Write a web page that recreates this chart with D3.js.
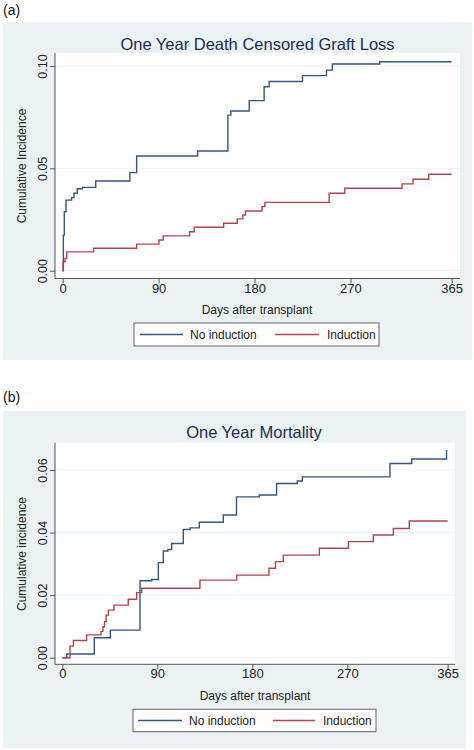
<!DOCTYPE html>
<html>
<head>
<meta charset="utf-8">
<script src="https://cdn.jsdelivr.net/npm/d3@7/dist/d3.min.js"></script>
<style>
  html, body { margin: 0; padding: 0; background: #ffffff; }
  svg { display: block; font-family: "Liberation Sans", Arial, sans-serif; }
</style>
</head>
<body>
<svg id="chart" width="474" height="750"></svg>
<script>
// ---------- DATA ----------
const xTickValues = [0, 90, 180, 270, 365];
const seriesNames = ["No induction", "Induction"];

// Panel (a): One Year Death Censored Graft Loss
const graftTitle = "One Year Death Censored Graft Loss";
const graftYLabel = "Cumulative Incidence";
const graftYTicks = [0, 0.05, 0.10];
const graftNoIndDays = [0, 0.6, 1.5, 3.1, 8.4, 10.6, 13.7, 18.4, 31, 63, 69.4, 126.6, 155, 157.8, 175, 189, 193.7, 225, 247.5, 253, 297.5, 365];
const graftNoIndVals = [0, 0.0174, 0.0288, 0.0345, 0.0357, 0.0378, 0.040, 0.0407, 0.0438, 0.0479, 0.056, 0.0585, 0.076, 0.078, 0.0831, 0.0899, 0.0924, 0.0953, 0.098, 0.101, 0.1021, 0.1021];
const graftIndDays = [0, 0.3, 2.2, 3.8, 29, 69.4, 90.3, 94.3, 119, 123.4, 151, 163.7, 169, 171.5, 187, 189.7, 250, 264.7, 318.4, 328.7, 343.4, 365];
const graftIndVals = [0, 0.0044, 0.006, 0.0092, 0.011, 0.013, 0.015, 0.017, 0.019, 0.0212, 0.0232, 0.0253, 0.0272, 0.0292, 0.0313, 0.0334, 0.0378, 0.0403, 0.0424, 0.0447, 0.0471, 0.0471];

// Panel (b): One Year Mortality
const mortTitle = "One Year Mortality";
const mortYLabel = "Cumulative incidence";
const mortYTicks = [0, 0.02, 0.04, 0.06];
const mortNoIndDays = [0, 4.2, 30.3, 45.5, 73.6, 84.7, 91, 95.7, 100, 103.6, 114.6, 121, 129.8, 152.5, 165, 186.6, 203, 222.6, 227.4, 310.4, 331, 364, 364];
const mortNoIndVals = [0, 0.0012, 0.0064, 0.0088, 0.0246, 0.025, 0.0304, 0.0341, 0.0346, 0.0365, 0.041, 0.0415, 0.0433, 0.0456, 0.0514, 0.052, 0.0557, 0.0565, 0.0578, 0.0621, 0.0635, 0.0664, 0.0664];
const mortIndDays = [0, 7.3, 10.5, 23, 36.7, 38.5, 40, 41.5, 43.6, 49, 62.5, 70.5, 75.2, 130.4, 165.2, 195.8, 202, 209.4, 243.5, 271, 294.6, 313.6, 328.7, 365];
const mortIndVals = [0, 0.0037, 0.0055, 0.0073, 0.0084, 0.0099, 0.0115, 0.0136, 0.0152, 0.0168, 0.0187, 0.0208, 0.0222, 0.0248, 0.0264, 0.0286, 0.0307, 0.0328, 0.035, 0.0371, 0.0392, 0.0413, 0.0437, 0.0437];

// ---------- STYLE ----------
const colors = ["#34567f", "#b0464e"];
const bgColor = "#eaf2f3";
const titleColor = "#1e2d53";
const gridColor = "#eaf2f3";
const axisColor = "#555555";

const svg = d3.select("#chart");

function drawPanel(cfg) {
  const g = svg.append("g");
  // panel label
  g.append("text").attr("x", 3).attr("y", cfg.labelY)
    .attr("font-size", 14).attr("fill", "#111").text(cfg.label);
  // background
  g.append("rect").attr("x", cfg.bg[0]).attr("y", cfg.bg[1])
    .attr("width", cfg.bg[2] - cfg.bg[0]).attr("height", cfg.bg[3] - cfg.bg[1])
    .attr("fill", bgColor);
  // plot region
  g.append("rect").attr("x", cfg.plot[0]).attr("y", cfg.plot[1])
    .attr("width", cfg.plot[2] - cfg.plot[0]).attr("height", cfg.plot[3] - cfg.plot[1])
    .attr("fill", "#ffffff");

  const x = d3.scaleLinear().domain([0, 365]).range(cfg.xRange);
  const y = d3.scaleLinear().domain([0, cfg.yMax]).range(cfg.yRange);

  // grid
  g.append("g").selectAll("line").data(cfg.yTicks).join("line")
    .attr("x1", cfg.plot[0]).attr("x2", cfg.plot[2])
    .attr("y1", d => y(d)).attr("y2", d => y(d))
    .attr("stroke", gridColor).attr("stroke-width", 1);

  // y axis
  const yAxis = d3.axisLeft(y).tickValues(cfg.yTicks).tickSize(5).tickFormat(d3.format(".2f"));
  const ya = g.append("g").attr("transform", `translate(${cfg.plot[0]},0)`).call(yAxis);
  ya.select(".domain").attr("d", `M0,${cfg.plot[1]}V${cfg.plot[3]}`).attr("stroke", axisColor);
  ya.selectAll(".tick line").attr("stroke", axisColor);
  ya.selectAll(".tick text")
    .attr("x", null).attr("dy", null).attr("y", null)
    .attr("transform", "translate(-8,0) rotate(-90)")
    .attr("text-anchor", "middle")
    .attr("font-size", 12.5).attr("fill", "#222")
    .attr("font-family", "Liberation Sans, Arial, sans-serif");

  // x axis
  const xAxis = d3.axisBottom(x).tickValues(xTickValues).tickSize(5).tickFormat(d3.format("d"));
  const xa = g.append("g").attr("transform", `translate(0,${cfg.plot[3]})`).call(xAxis);
  xa.select(".domain").attr("d", `M${cfg.plot[0]},0H${cfg.plot[2]}`).attr("stroke", axisColor);
  xa.selectAll(".tick line").attr("stroke", axisColor);
  xa.selectAll(".tick text").attr("y", cfg.xTickLabelDy).attr("dy", null)
    .attr("font-size", 13).attr("fill", "#222")
    .attr("font-family", "Liberation Sans, Arial, sans-serif");

  // title
  g.append("text").attr("x", cfg.titleX).attr("y", cfg.titleY)
    .attr("text-anchor", "middle").attr("font-size", 16.5).attr("fill", titleColor)
    .text(cfg.title);
  // axis titles
  g.append("text").attr("transform", `translate(${cfg.yTitleX},${cfg.yTitleY}) rotate(-90)`)
    .attr("text-anchor", "middle").attr("font-size", 12).attr("fill", "#222")
    .text(cfg.yLabel);
  g.append("text").attr("x", cfg.xTitleX).attr("y", cfg.xTitleY)
    .attr("text-anchor", "middle").attr("font-size", 12).attr("fill", "#222")
    .text("Days after transplant");

  // curves
  const line = d3.line().x(d => x(d[0])).y(d => y(d[1])).curve(d3.curveStepAfter);
  cfg.series.forEach((s, i) => {
    const pts = s.days.map((d, k) => [d, s.vals[k]]);
    g.append("path").datum(pts).attr("d", line)
      .attr("fill", "none").attr("stroke", colors[i]).attr("stroke-width", 1.4);
  });

  // legend
  const L = cfg.legend;
  const lg = g.append("g");
  lg.append("rect").attr("x", L.box[0]).attr("y", L.box[1])
    .attr("width", L.box[2] - L.box[0]).attr("height", L.box[3] - L.box[1])
    .attr("fill", "#ffffff").attr("stroke", "#666").attr("stroke-width", 1);
  const cy = (L.box[1] + L.box[3]) / 2;
  seriesNames.forEach((name, i) => {
    lg.append("line").attr("x1", L.lines[i][0]).attr("x2", L.lines[i][1])
      .attr("y1", cy).attr("y2", cy).attr("stroke", colors[i]).attr("stroke-width", 1.4);
    lg.append("text").attr("x", L.texts[i]).attr("y", cy + 4.5)
      .attr("font-size", 12).attr("fill", "#222").text(name);
  });
}

drawPanel({
  label: "(a)", labelY: 15,
  bg: [3, 22, 472, 360],
  plot: [55, 53, 460, 278.5],
  xRange: [62.7, 451.7],
  yMax: 0.10, yRange: [270.7, 66],
  yTicks: graftYTicks,
  xTickLabelDy: 14,
  title: graftTitle, titleX: 257.5, titleY: 49.5,
  yLabel: graftYLabel, yTitleX: 26, yTitleY: 166,
  xTitleX: 257, xTitleY: 314,
  series: [
    { days: graftNoIndDays, vals: graftNoIndVals },
    { days: graftIndDays, vals: graftIndVals }
  ],
  legend: { box: [134, 323, 379, 346], lines: [[140, 183], [275, 319]], texts: [190, 327] }
});

drawPanel({
  label: "(b)", labelY: 402,
  bg: [3, 411, 466, 748],
  plot: [55, 442.7, 455, 664.3],
  xRange: [62.3, 447.6],
  yMax: 0.06, yRange: [657.7, 470],
  yTicks: mortYTicks,
  xTickLabelDy: 14,
  title: mortTitle, titleX: 254, titleY: 438,
  yLabel: mortYLabel, yTitleX: 26, yTitleY: 554,
  xTitleX: 255, xTitleY: 700,
  series: [
    { days: mortNoIndDays, vals: mortNoIndVals },
    { days: mortIndDays, vals: mortIndVals }
  ],
  legend: { box: [133, 709.3, 376, 731.7], lines: [[138, 182], [273, 315]], texts: [189, 323] }
});
</script>
</body>
</html>
